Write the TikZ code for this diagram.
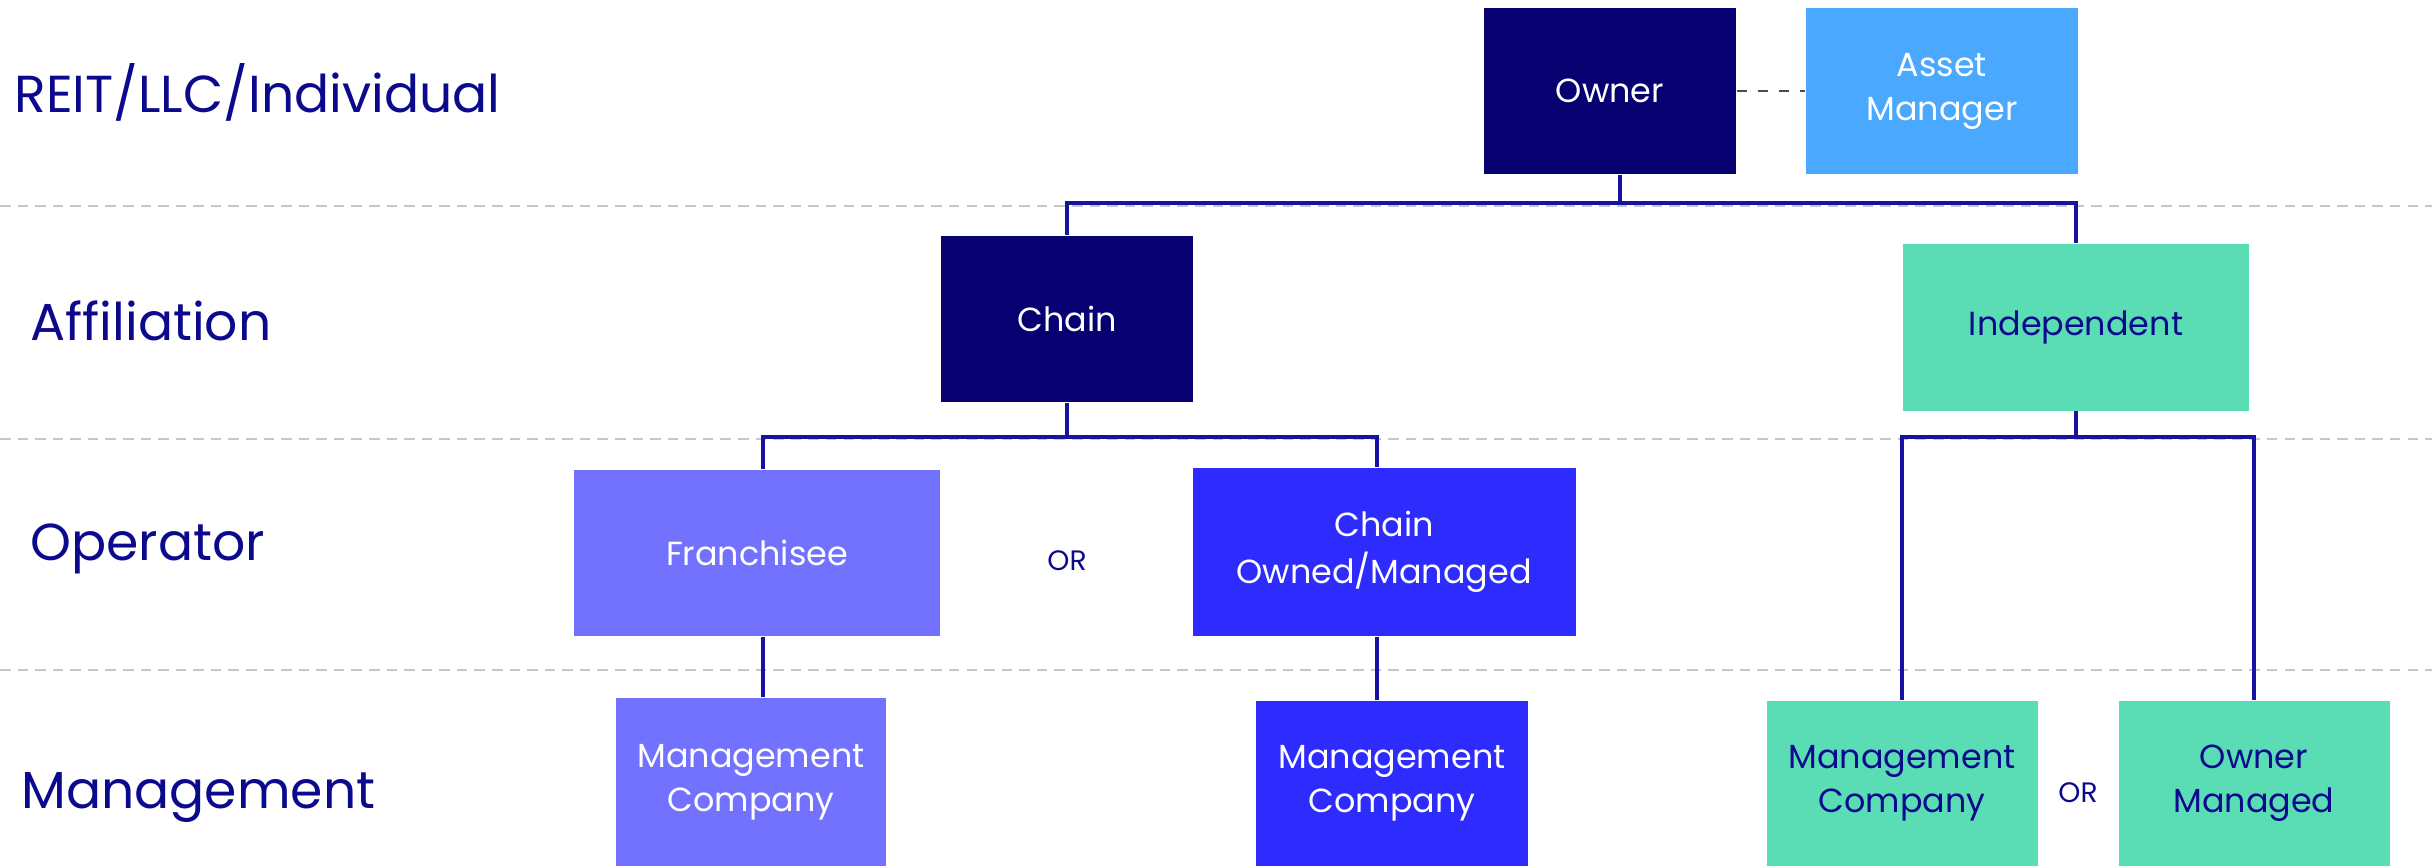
\documentclass[tikz,border=0pt]{standalone}
\usepackage{fontspec}
\setmainfont{Poppins}
\usetikzlibrary{positioning}

\definecolor{navy}{RGB}{6,0,112}
\definecolor{skyblue}{RGB}{75,168,255}
\definecolor{mint}{RGB}{90,221,181}
\definecolor{periwinkle}{RGB}{114,114,255}
\definecolor{royal}{RGB}{46,43,255}
\definecolor{inkblue}{RGB}{12,10,140}
\definecolor{linkblue}{RGB}{24,18,160}

\tikzset{
    box/.style={inner sep=0pt, align=center, text=white,
        font=\fontsize{9.5}{12.5}\selectfont},
    level/.style={anchor=west, text=inkblue,
        font=\fontsize{14.8}{18}\selectfont},
    link/.style={draw=linkblue, line width=1pt},
    sep/.style={draw=black!22, line width=0.5pt, dash pattern=on 3pt off 2pt},
    ortext/.style={text=inkblue, font=\fontsize{8}{10}\selectfont}
}

\begin{document}
\begin{tikzpicture}
\useasboundingbox (0,0) rectangle (24.32,-8.66);

\foreach \y in {2.06, 4.39, 6.70}{
    \draw[sep] (0,-\y) -- (24.32,-\y);
}

\node[level] (lvlowner) at (0.02,-0.92) {REIT/LLC/Individual};
\node[level] (lvlaffil) at (0.18,-3.21) {Affiliation};
\node[level] (lvloper) at (0.18,-5.49) {Operator};
\node[level] (lvlmgmt) at (0.09,-7.98) {Management};

\node[box, fill=navy, minimum width=2.52cm, minimum height=1.66cm] (owner) at (16.10,-0.91) {Owner};
\node[box, fill=skyblue, minimum width=2.72cm, minimum height=1.66cm] (asset) at (19.42,-0.91) {Asset\\Manager};

\node[box, fill=navy, minimum width=2.52cm, minimum height=1.66cm] (chain) at (10.67,-3.19) {Chain};
\node[box, fill=mint, text=inkblue, minimum width=3.46cm, minimum height=1.67cm] (indep) at (20.76,-3.27) {Independent};

\node[box, fill=periwinkle, minimum width=3.66cm, minimum height=1.66cm] (franch) at (7.57,-5.53) {Franchisee};
\node[ortext] (or1) at (10.67,-5.61) {OR};
\node[box, fill=royal, minimum width=3.83cm, minimum height=1.68cm] (chainom) at (13.84,-5.52) {Chain\\[1pt]Owned/Managed};

\node[box, fill=periwinkle, minimum width=2.70cm, minimum height=1.68cm] (mcfr) at (7.51,-7.82) {Management\\Company};
\node[box, fill=royal, minimum width=2.72cm, minimum height=1.65cm] (mcch) at (13.92,-7.83) {Management\\Company};
\node[box, fill=mint, text=inkblue, minimum width=2.71cm, minimum height=1.65cm] (mcind) at (19.02,-7.83) {Management\\Company};
\node[ortext] (or2) at (20.78,-7.93) {OR};
\node[box, fill=mint, text=inkblue, minimum width=2.71cm, minimum height=1.65cm] (ownman) at (22.54,-7.83) {Owner\\Managed};

\coordinate (bustop) at (0,-2.03);
\coordinate (busmid) at (0,-4.37);

\draw[dashed, draw=black!70, line width=0.7pt] (owner.east) -- (asset.west);

\draw[link] ([xshift=0.1cm]owner.south) -- ([xshift=0.1cm]owner.south |- bustop);
\draw[link] (chain.north) -- (chain.north |- bustop) -- (indep.north |- bustop) -- (indep.north);

\draw[link] (chain.south) -- (chain.south |- busmid);
\draw[link] ([xshift=0.06cm]franch.north) -- ([xshift=0.06cm]franch.north |- busmid) -- ([xshift=-0.07cm]chainom.north |- busmid) -- ([xshift=-0.07cm]chainom.north);

\draw[link] (indep.south) -- (indep.south |- busmid);
\draw[link] (mcind.north) -- (mcind.north |- busmid) -- (ownman.north |- busmid) -- (ownman.north);

\draw[link] ([xshift=0.06cm]franch.south) -- ([xshift=0.06cm]franch.south |- mcfr.north);
\draw[link] ([xshift=-0.07cm]chainom.south) -- ([xshift=-0.07cm]chainom.south |- mcch.north);

\end{tikzpicture}
\end{document}
